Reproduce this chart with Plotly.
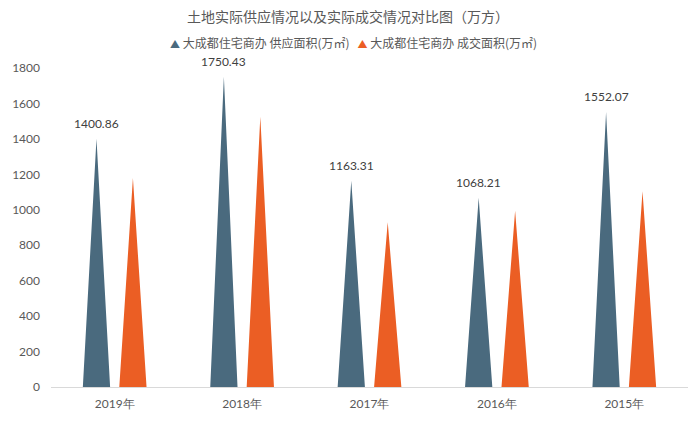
import plotly.graph_objects as go

categories = ["2019年", "2018年", "2017年", "2016年", "2015年"]
supply = [1400.86, 1750.43, 1163.31, 1068.21, 1552.07]
deal = [1180, 1525, 930, 995, 1105]
series_names = ["大成都住宅商办 供应面积(万㎡)", "大成都住宅商办 成交面积(万㎡)"]
colors = ["#4A6A7E", "#EB5E24"]
title = "土地实际供应情况以及实际成交情况对比图（万方）"

offset = 0.143
half_w = 0.107
font_family = "Microsoft YaHei, Noto Sans CJK SC, sans-serif"
num_font = "Lato, sans-serif"

fig = go.Figure()

def tri_trace(values, shift, color, name):
    xs, ys = [], []
    for i, v in enumerate(values):
        c = i + shift
        xs += [c - half_w, c, c + half_w, c - half_w, None]
        ys += [0, v, 0, 0, None]
    return go.Scatter(x=xs, y=ys, mode="lines", fill="toself", fillcolor=color,
                      line=dict(width=0, color=color), showlegend=False,
                      hoverinfo="skip", name=name, cliponaxis=False)

fig.add_trace(tri_trace(supply, -offset, colors[0], series_names[0]))
fig.add_trace(tri_trace(deal, offset, colors[1], series_names[1]))

# data labels on supply series
for i, v in enumerate(supply):
    fig.add_annotation(x=i - offset, y=v, text=f"{v:.2f}", showarrow=False,
                       yanchor="bottom", yshift=6,
                       font=dict(size=12, color="#404040", family=num_font))

# legend drawn as text with coloured triangles
legend_text = "   ".join(
    f'<span style="color:{c}; font-size:10px">▲</span> {n}'
    for n, c in zip(series_names, colors))
fig.add_annotation(xref="paper", yref="paper", x=0.475, y=1.08, xanchor="center",
                   yanchor="middle", showarrow=False, text=legend_text,
                   font=dict(size=12, color="#595959", family=font_family))

fig.update_layout(
    width=700, height=423,
    paper_bgcolor="white", plot_bgcolor="white",
    margin=dict(l=48, r=12, t=68, b=35),
    showlegend=False,
    title=dict(text=title, x=0.497, xanchor="center", y=0.96, yanchor="middle",
               font=dict(size=14, color="#595959", family=font_family)),
    font=dict(family=font_family, color="#595959"),
)
fig.update_xaxes(range=[-0.5, len(categories) - 0.5],
                 tickvals=list(range(len(categories))), ticktext=categories,
                 showgrid=False, zeroline=False, showline=True, linecolor="#D9D9D9",
                 ticks="", ticklabelstandoff=6,
                 tickfont=dict(size=12, color="#595959", family=num_font))
fig.update_yaxes(range=[0, 1800], dtick=200, showgrid=False, zeroline=False,
                 showline=False, ticks="", ticklabelstandoff=10,
                 tickfont=dict(size=12, color="#595959", family=num_font))

fig.write_html("out.html")
